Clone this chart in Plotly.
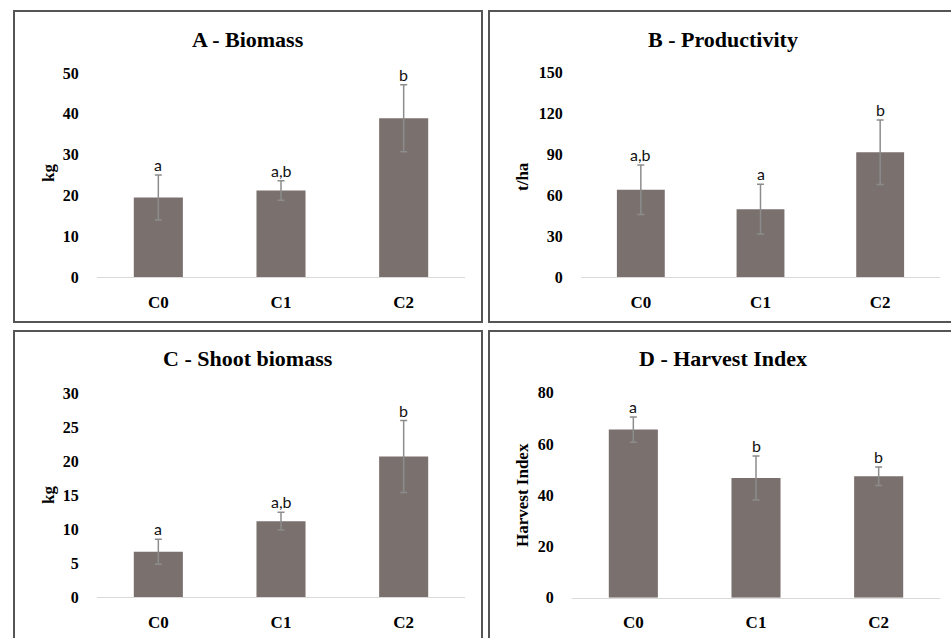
import plotly.graph_objects as go

W, H = 951, 638

categories = ["C0", "C1", "C2"]

biomass = [19.5, 21.2, 38.9]
biomass_err = [5.5, 2.4, 8.2]
biomass_sig = ["a", "a,b", "b"]

productivity = [64.0, 49.8, 91.6]
productivity_err = [18.2, 18.3, 23.7]
productivity_sig = ["a,b", "a", "b"]

shoot = [6.7, 11.2, 20.7]
shoot_err = [1.85, 1.3, 5.3]
shoot_sig = ["a", "a,b", "b"]

harvest = [65.6, 46.7, 47.4]
harvest_err = [4.9, 8.6, 3.6]
harvest_sig = ["a", "b", "b"]

y_ticks_A = [0, 10, 20, 30, 40, 50]
y_ticks_B = [0, 30, 60, 90, 120, 150]
y_ticks_C = [0, 5, 10, 15, 20, 25, 30]
y_ticks_D = [0, 20, 40, 60, 80]

BAR = "#7a716e"
ERR = "#8c8c8c"
SERIF = "Liberation Serif"
SANS = "Lato"


def px(x):
    return x / W


def py(y):
    return 1 - y / H


panels = [
    dict(vals=biomass, err=biomass_err, sig=biomass_sig, ticks=y_ticks_A,
         title="A - Biomass", ytitle="kg",
         xd=(97, 465), yd=(277, 73), tpos=(248, 39), ytpos=(48, 173),
         box=(14, 11, 482, 322)),
    dict(vals=productivity, err=productivity_err, sig=productivity_sig, ticks=y_ticks_B,
         title="B - Productivity", ytitle="t/ha",
         xd=(581, 940), yd=(277, 72.7), tpos=(723, 39), ytpos=(522, 177),
         box=(489, 11, 1000, 322)),
    dict(vals=shoot, err=shoot_err, sig=shoot_sig, ticks=y_ticks_C,
         title="C - Shoot biomass", ytitle="kg",
         xd=(97, 465), yd=(597.3, 393.3), tpos=(248, 358), ytpos=(48, 495),
         box=(14, 331, 482, 680)),
    dict(vals=harvest, err=harvest_err, sig=harvest_sig, ticks=y_ticks_D,
         title="D - Harvest Index", ytitle="Harvest Index",
         xd=(572, 940), yd=(597.7, 392.7), tpos=(723, 358), ytpos=(522, 495),
         box=(489, 331, 1000, 680)),
]

fig = go.Figure()
annotations = []
shapes = []
layout_axes = {}

for i, p in enumerate(panels):
    n = i + 1
    xa = "x" if n == 1 else f"x{n}"
    ya = "y" if n == 1 else f"y{n}"
    fig.add_trace(go.Bar(
        x=categories, y=p["vals"], xaxis=xa, yaxis=ya,
        marker=dict(color=BAR, line=dict(width=0)),
        width=0.4,
        error_y=dict(type="data", array=p["err"], visible=True,
                     color=ERR, thickness=1.5, width=3.5),
        showlegend=False, hoverinfo="x+y",
    ))
    xkey = "xaxis" if n == 1 else f"xaxis{n}"
    ykey = "yaxis" if n == 1 else f"yaxis{n}"
    layout_axes[xkey] = dict(
        domain=[px(p["xd"][0]), px(p["xd"][1])], anchor=ya,
        showline=True, linecolor="#d9d9d9", linewidth=1.2,
        showgrid=False, zeroline=False,
        ticks="outside", ticklen=9, tickcolor="rgba(0,0,0,0)",
        tickfont=dict(family=SERIF, size=17, color="#000", weight="bold"),
        fixedrange=True,
    )
    layout_axes[ykey] = dict(
        domain=[py(p["yd"][0]), py(p["yd"][1])], anchor=xa,
        range=[0, p["ticks"][-1]], tickvals=p["ticks"],
        showline=False, showgrid=False, zeroline=False,
        ticks="outside", ticklen=14, tickcolor="rgba(0,0,0,0)",
        tickfont=dict(family=SERIF, size=16, color="#000", weight="bold"),
        fixedrange=True,
    )
    for c, v, e, s in zip(categories, p["vals"], p["err"], p["sig"]):
        annotations.append(dict(
            x=c, y=v + e, xref=xa, yref=ya, text=s, showarrow=False,
            yanchor="bottom", xanchor="center", yshift=-1,
            font=dict(family=SANS, size=16, color="#111"),
        ))
    annotations.append(dict(
        x=px(p["tpos"][0]), y=py(p["tpos"][1]), xref="paper", yref="paper",
        text=f"<b>{p['title']}</b>", showarrow=False,
        xanchor="center", yanchor="middle",
        font=dict(family=SERIF, size=22, color="#000"),
    ))
    annotations.append(dict(
        x=px(p["ytpos"][0]), y=py(p["ytpos"][1]), xref="paper", yref="paper",
        text=f"<b>{p['ytitle']}</b>", showarrow=False, textangle=-90,
        xanchor="center", yanchor="middle",
        font=dict(family=SERIF, size=17, color="#000"),
    ))
    x0, y0, x1, y1 = p["box"]
    shapes.append(dict(
        type="rect", xref="paper", yref="paper",
        x0=px(x0), x1=px(x1), y0=py(y1), y1=py(y0),
        line=dict(color="#555555", width=2), fillcolor="rgba(0,0,0,0)",
    ))

fig.update_layout(
    width=W, height=H, autosize=False,
    margin=dict(l=0, r=0, t=0, b=0, autoexpand=False),
    paper_bgcolor="white", plot_bgcolor="white",
    annotations=annotations, shapes=shapes,
    **layout_axes,
)

fig.write_html(
    "out.html",
    config={"displayModeBar": False, "responsive": False},
    post_script="document.body.style.margin='0';document.body.style.overflow='hidden';",
)
